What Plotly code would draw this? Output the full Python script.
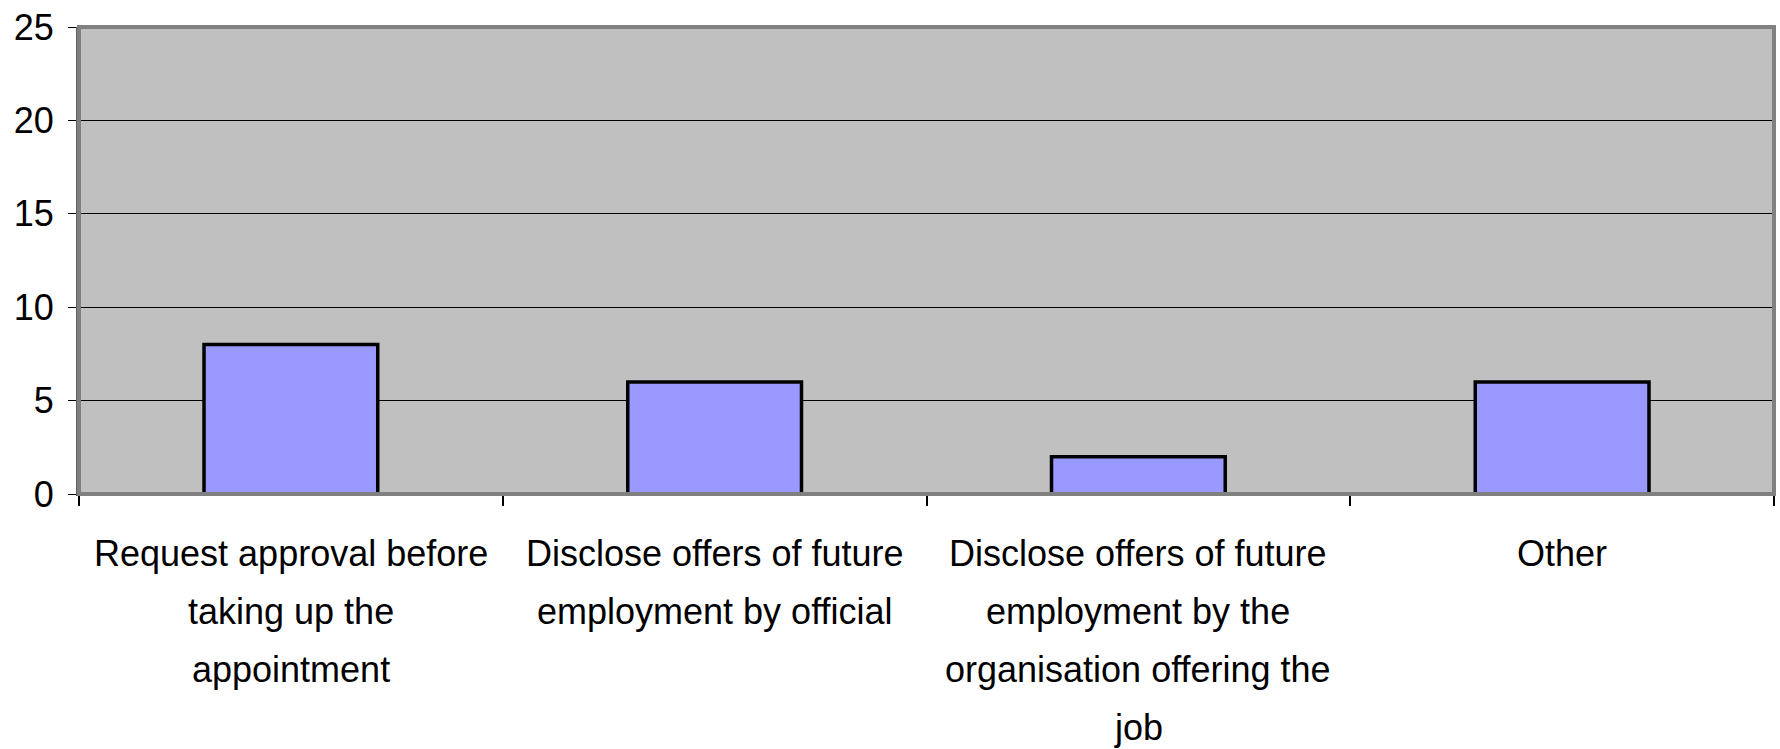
import plotly.graph_objects as go

categories = [
    "Request approval before<br>taking up the<br>appointment",
    "Disclose offers of future<br>employment by official",
    "Disclose offers of future<br>employment by the<br>organisation offering the<br>job",
    "Other",
]
values = [8, 6, 2, 6]
y_ticks = [0, 5, 10, 15, 20, 25]

FONT = "Liberation Sans, Arial, sans-serif"

fig = go.Figure()
fig.add_trace(go.Bar(
    x=categories,
    y=values,
    marker=dict(color="#9999FF", line=dict(color="#000000", width=3.5)),
    hoverinfo="skip",
))

# category labels, one annotation per text line (to match the original line spacing)
LINE_H = 58
for lab in categories:
    for j, line in enumerate(lab.split("<br>")):
        fig.add_annotation(
            x=lab, y=0, xref="x", yref="y",
            text=line, showarrow=False,
            yanchor="middle", xanchor="center",
            yshift=-59 - j * LINE_H,
            font=dict(family=FONT, size=36, color="#000000"),
        )

# plot area border (grey frame)
fig.add_shape(type="rect", xref="paper", yref="paper", x0=0, y0=0, x1=1, y1=1,
              line=dict(color="#808080", width=4), layer="above")

fig.update_layout(
    width=1780, height=749,
    margin=dict(l=79, r=6, t=27, b=255),
    paper_bgcolor="#FFFFFF",
    plot_bgcolor="#C0C0C0",
    bargap=0.59,
    showlegend=False,
    font=dict(family=FONT, size=36, color="#000000"),
    xaxis=dict(
        type="category",
        showticklabels=False,
        tickson="boundaries",
        ticks="outside", ticklen=10, tickwidth=2, tickcolor="#000000",
        showgrid=False, zeroline=False,
        showline=True, linecolor="#404040", linewidth=2,
        fixedrange=True,
    ),
    yaxis=dict(
        range=[0, 25],
        tickmode="array", tickvals=y_ticks,
        ticks="outside", ticklen=8, tickwidth=1, tickcolor="#000000",
        ticklabelstandoff=7,
        tickfont=dict(family=FONT, size=36, color="#000000"),
        showgrid=True, gridcolor="#000000", gridwidth=1,
        zeroline=False,
        showline=True, linecolor="#606060", linewidth=3,
        fixedrange=True,
    ),
)

fig.write_html("out.html")
